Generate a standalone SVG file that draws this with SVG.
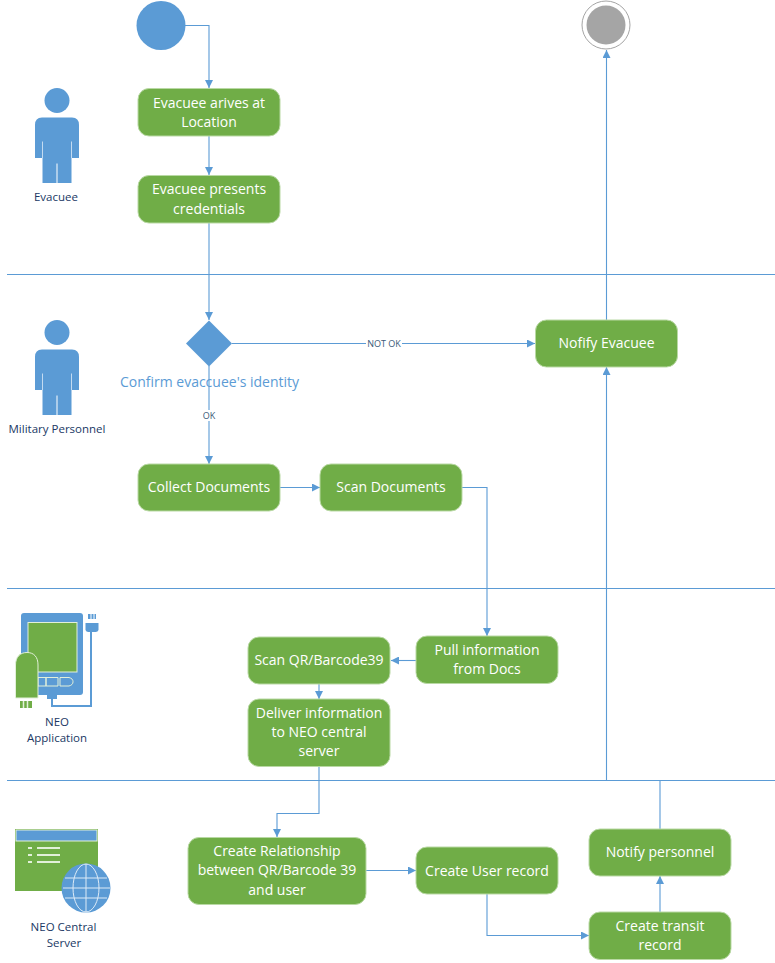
<svg xmlns="http://www.w3.org/2000/svg" width="775" height="963" viewBox="0 0 775 963">
<style>
text{font-family:"Open Sans","Noto Sans","Liberation Sans",sans-serif;text-anchor:middle}
.n{fill:#70ad47;stroke:#b9d9a4;stroke-width:1}
.t{fill:#fff;font-size:14px}
.l{fill:#203864;font-size:11.500px}
.c{fill:none;stroke:#5b9bd5;stroke-width:1.100}
.lane{stroke:#5b9bd5;stroke-width:1;fill:none}
.b{fill:#5b9bd5}
.lb{fill:#3b5a78;font-size:9px}
</style>
<defs>
<marker id="a" markerUnits="userSpaceOnUse" markerWidth="9" markerHeight="8" refX="8" refY="4" orient="auto"><path d="M0 0L8 4L0 8Z" fill="#5b9bd5"/></marker>
<g id="person">
<circle cx="0" cy="0" r="12.500" fill="#5b9bd5"/>
<path d="M-15 17H15Q22 17 22 24.500V57.500H14.500V82.500H0.500V63H-0.500V82.500H-14.500V57.500H-22V24.500Q-22 17 -15 17Z" fill="#5b9bd5"/>
<path d="M-14.500 41V57.500M14.500 41V57.500" stroke="#deebf7" stroke-width="0.800"/>
</g>
</defs>
<g id="lanes">
<path class="lane" d="M7 274.500H775M7 588.500H775M7 780.500H775"/>
</g>
<g id="connectors">
<path class="c" marker-end="url(#a)" d="M185 25.500H209V88"/>
<path class="c" marker-end="url(#a)" d="M209 136V175"/>
<path class="c" marker-end="url(#a)" d="M209 223V320"/>
<path class="c" marker-end="url(#a)" d="M232 343.500H535"/>
<path class="c" marker-end="url(#a)" d="M209 366V464"/>
<path class="c" marker-end="url(#a)" d="M280 487.500H320"/>
<path class="c" marker-end="url(#a)" d="M462 487.500H487V636"/>
<path class="c" marker-end="url(#a)" d="M416 660.500H391"/>
<path class="c" marker-end="url(#a)" d="M319 684V699"/>
<path class="c" marker-end="url(#a)" d="M319 767V813.500H277V837"/>
<path class="c" marker-end="url(#a)" d="M366 870.500H416"/>
<path class="c" marker-end="url(#a)" d="M487 894V935.500H589"/>
<path class="c" marker-end="url(#a)" d="M660 912V876"/>
<path class="c" marker-end="url(#a)" d="M660 829V780.500H606.500V367"/>
<path class="c" marker-end="url(#a)" d="M606.500 320V50"/>
</g>
<g id="start"><circle class="b" cx="161" cy="25.500" r="24.500"/></g>
<g id="end">
<circle cx="606" cy="25" r="24" fill="#fff" stroke="#a5a5a5" stroke-width="1"/>
<circle cx="606" cy="25" r="19.500" fill="#a5a5a5"/>
</g>
<g id="evacuee">
<use href="#person" x="57" y="100.500"/>
<text class="l" x="56" y="201">Evacuee</text>
</g>
<g id="military">
<use href="#person" x="57" y="332.500"/>
<text class="l" x="57" y="433">Military Personnel</text>
</g>
<g id="neo-app">
<rect class="b" x="21" y="613" width="62" height="82" rx="3"/>
<rect x="28" y="622.500" width="49" height="49.500" fill="#70ad47" stroke="#e2f0d9" stroke-width="1"/>
<path d="M38 677.500H46V686H38ZM46 677.500H58V686H46ZM60 677.500H69A6 4.500 0 0 1 69 686H60Z" fill="none" stroke="#e2f0d9" stroke-width="1"/>
<path d="M52 699V706H91V630" fill="none" stroke="#5b9bd5" stroke-width="2"/>
<path d="M47 695H57V699H47Z" fill="#5b9bd5"/>
<path d="M85.500 623H98.500V630A3 3 0 0 1 95.500 632H88.500A3 3 0 0 1 85.500 630Z" fill="#5b9bd5"/>
<path d="M88 614H96V619H88Z" fill="#5b9bd5"/><path d="M91 614V619M94 614V619" stroke="#fff" stroke-width="1"/>
<path d="M15.500 698V665C15.500 657 20 652.500 27 652.500S38 657 38 665V698Z" fill="#70ad47" stroke="#e2f0d9" stroke-width="1"/>
<path d="M20 701H32V708H20Z" fill="#70ad47"/><path d="M23.500 701V708M27.500 701V708" stroke="#e2f0d9" stroke-width="1.500"/>
<text class="l" x="57" y="726">NEO</text>
<text class="l" x="57" y="742">Application</text>
</g>
<g id="neo-server">
<rect x="15" y="829" width="83" height="62" fill="#70ad47"/>
<rect x="16" y="830" width="81" height="11" fill="#5b9bd5" stroke="#e2f0d9" stroke-width="1"/>
<path d="M28 848H32M37 848H60M28 855H32M37 855H60M28 862H32M37 862H60" stroke="#e2f0d9" stroke-width="2"/>
<circle class="b" cx="86" cy="888" r="24.500"/>
<g stroke="#deebf7" stroke-width="1" fill="none">
<ellipse cx="86" cy="888" rx="13" ry="24"/>
<path d="M86 864V912M63 888H110M65 878H107M65 898H107"/>
</g>
<text class="l" x="63.500" y="931">NEO Central</text>
<text class="l" x="64" y="947">Server</text>
</g>
<g id="n1"><rect class="n" x="138" y="88.500" width="142" height="47.500" rx="11"/><text class="t" x="209" y="108">Evacuee arives at</text><text class="t" x="209" y="127">Location</text></g>
<g id="n2"><rect class="n" x="138" y="175.500" width="142" height="47.500" rx="11"/><text class="t" x="209" y="194">Evacuee presents</text><text class="t" x="209" y="214">credentials</text></g>
<g id="decision"><path class="b" d="M209 320.500L232 343.500L209 366.500L186 343.500Z"/></g>
<g id="decision-labels">
<text x="209.500" y="387" font-size="14" fill="#5b9bd5">Confirm evaccuee's identity</text>
<rect x="366" y="338" width="36" height="11" fill="#fff"/>
<text class="lb" x="384" y="347">NOT OK</text>
<rect x="202" y="410" width="15" height="11" fill="#fff"/>
<text class="lb" x="209" y="419">OK</text>
</g>
<g id="n3"><rect class="n" x="535.500" y="320" width="142" height="47" rx="11"/><text class="t" x="606.500" y="348">Nofify Evacuee</text></g>
<g id="n4"><rect class="n" x="138" y="464" width="142" height="47" rx="11"/><text class="t" x="209" y="492">Collect Documents</text></g>
<g id="n5"><rect class="n" x="320" y="464" width="142" height="47" rx="11"/><text class="t" x="391" y="492">Scan Documents</text></g>
<g id="n6"><rect class="n" x="416" y="636" width="142" height="47.500" rx="11"/><text class="t" x="487" y="655">Pull information</text><text class="t" x="487" y="674">from Docs</text></g>
<g id="n7"><rect class="n" x="248" y="637" width="142" height="47" rx="11"/><text class="t" x="319" y="665">Scan QR/Barcode39</text></g>
<g id="n8"><rect class="n" x="248" y="699" width="142" height="67.500" rx="11"/><text class="t" x="319" y="718">Deliver information</text><text class="t" x="319" y="737">to NEO central</text><text class="t" x="319" y="756">server</text></g>
<g id="n9"><rect class="n" x="188" y="837.500" width="178" height="67" rx="11"/><text class="t" x="277" y="856">Create Relationship</text><text class="t" x="277" y="875">between QR/Barcode 39</text><text class="t" x="277" y="895">and user</text></g>
<g id="n10"><rect class="n" x="416" y="847" width="142" height="47" rx="11"/><text class="t" x="487" y="876">Create User record</text></g>
<g id="n11"><rect class="n" x="589" y="829" width="142" height="47" rx="11"/><text class="t" x="660" y="857">Notify personnel</text></g>
<g id="n12"><rect class="n" x="589" y="912" width="142" height="47.500" rx="11"/><text class="t" x="660" y="931">Create transit</text><text class="t" x="660" y="950">record</text></g>
</svg>
